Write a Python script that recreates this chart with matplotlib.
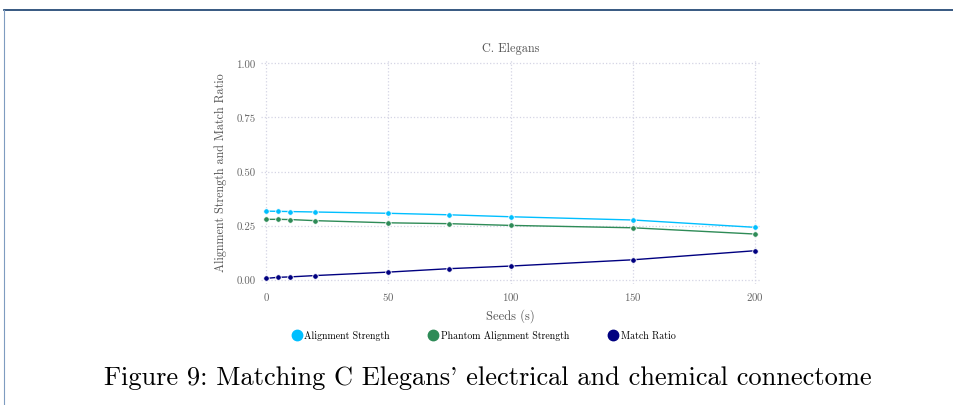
import matplotlib.pyplot as plt
from matplotlib.lines import Line2D

plt.rcParams['font.family'] = ['cmr10', 'DejaVu Serif']
plt.rcParams['axes.formatter.use_mathtext'] = True

seeds = [0, 5, 10, 20, 50, 75, 100, 150, 200]
alignment_strength = [0.317, 0.316, 0.315, 0.313, 0.307, 0.300, 0.291, 0.276, 0.242]
phantom_strength = [0.279, 0.279, 0.278, 0.273, 0.263, 0.259, 0.251, 0.240, 0.211]
match_ratio = [0.006, 0.011, 0.013, 0.019, 0.035, 0.051, 0.063, 0.092, 0.134]

series = [
    ('Alignment Strength', alignment_strength, '#00bfff'),
    ('Phantom Alignment Strength', phantom_strength, '#2e8b57'),
    ('Match Ratio', match_ratio, '#000080'),
]

fig = plt.figure(figsize=(9.54, 4.06), dpi=100)
ax = fig.add_axes([0.2737, 0.298, 0.523, 0.554])

for name, vals, color in series:
    ax.plot(seeds, vals, color=color, lw=1.0, marker='o', markersize=4,
            markeredgecolor='white', markeredgewidth=0.6, label=name)

ax.set_xlim(-2, 202)
ax.set_ylim(-0.02, 1.02)
ax.set_xticks([0, 50, 100, 150, 200])
ax.set_yticks([0, 0.25, 0.5, 0.75, 1.0])
ax.set_yticklabels(['0.00', '0.25', '0.50', '0.75', '1.00'])
ax.grid(True, color='#d4d4e4', linestyle=':', linewidth=0.9)
for s in ax.spines.values():
    s.set_visible(False)
ax.tick_params(length=0, labelsize=7.8, labelcolor='#666666', pad=4)
ax.set_title('C. Elegans', fontsize=8.8, color='#555555', pad=6)
ax.set_xlabel('Seeds (s)', fontsize=9, color='#555555', labelpad=5)
ax.set_ylabel('Alignment Strength and Match Ratio', fontsize=8.7, color='#555555', labelpad=7)

handles = [Line2D([], [], linestyle='none', marker='o', markersize=7.5, color=c)
           for _, _, c in series]
fig.legend(handles, [n for n, _, _ in series], loc='center',
           bbox_to_anchor=(0.507, 1 - 336 / 406), ncol=3, frameon=False,
           fontsize=7.1, handletextpad=0.3, columnspacing=3.9, handlelength=1.0)

fig.text(488 / 954, 1 - 378 / 406, "Figure 9: Matching C Elegans' electrical and chemical connectome",
         ha='center', va='center', fontsize=19)

# page frame around the figure
fig.add_artist(Line2D([4 / 954, 1], [1 - 10.5 / 406, 1 - 10.5 / 406], color='#143c6c', lw=1.2))
fig.add_artist(Line2D([4 / 954, 4 / 954], [0, 1 - 10.5 / 406], color='#7f9cc0', lw=0.8))

fig.savefig('out.png', dpi=100)
